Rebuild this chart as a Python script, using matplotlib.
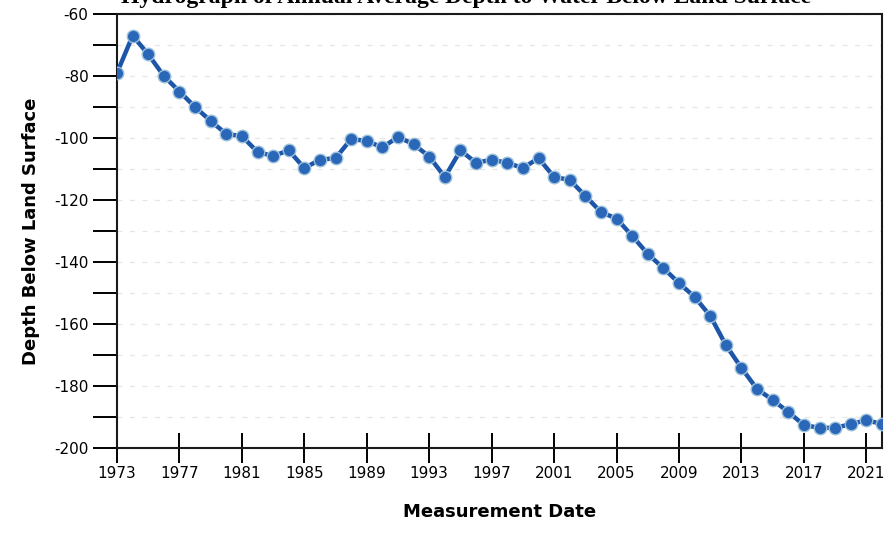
import matplotlib.pyplot as plt
from matplotlib.ticker import MultipleLocator

plt.rcParams["axes.unicode_minus"] = False

years = list(range(1973, 2023))
depth = [-79, -67, -73, -80, -85, -90, -94.5, -98.7, -99.4, -104.5,
         -105.8, -104, -109.7, -107, -106.5, -100.3, -101, -103, -99.7, -102,
         -106, -112.6, -104, -108, -107, -108, -109.7, -106.5, -112.6, -113.5,
         -118.7, -123.9, -126, -131.6, -137.4, -142, -146.8, -151.3, -157.4, -166.8,
         -174.2, -181, -184.5, -188.4, -192.6, -193.5, -193.5, -192.3, -191, -192.3]
xticks = list(range(1973, 2022, 4))

fig = plt.figure(figsize=(8.96, 5.33), dpi=100)
ax = fig.add_axes([117 / 896, 1 - 448 / 533, (882 - 117) / 896, (448 - 14) / 533])

ax.plot(years, depth, "-", color="#1d56a8", linewidth=3.2, zorder=3)
ax.plot(years, depth, "o", markersize=9, markerfacecolor="#2a67b8",
        markeredgecolor="#9cc0da", markeredgewidth=1.0, zorder=4)

ax.set_xlim(1973, 2022)
ax.set_ylim(-200, -60)
ax.set_xticks(xticks)
ax.yaxis.set_major_locator(MultipleLocator(20))
ax.yaxis.set_minor_locator(MultipleLocator(10))
ax.tick_params(axis="y", which="both", direction="out", length=17, width=1.4, labelsize=11)
ax.tick_params(axis="x", which="major", direction="inout", length=22, width=1.4,
               labelsize=11, pad=2)
ax.grid(True, axis="y", which="both", linestyle=(0, (4, 6)), color="#e6e6e6", linewidth=0.9)
for s in ax.spines.values():
    s.set_linewidth(1.5)
    s.set_color("#1a1a1a")

ax.set_ylabel("Depth Below Land Surface", fontsize=13, fontweight="bold", labelpad=10)
ax.set_xlabel("Measurement Date", fontsize=13, fontweight="bold", labelpad=16)

# title is cropped at the top edge in the source picture
fig.text(0.52, 1 - 3 / 533, "Hydrograph of Annual Average Depth to Water Below Land Surface",
         ha="center", va="baseline", fontsize=17, fontweight="bold", family="Liberation Serif")

fig.savefig("out.png", dpi=100)
